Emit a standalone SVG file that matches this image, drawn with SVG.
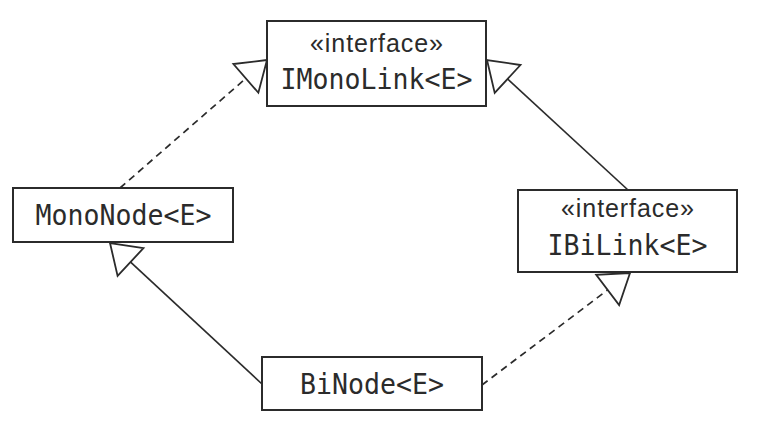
<svg xmlns="http://www.w3.org/2000/svg" width="766" height="435" viewBox="0 0 766 435">
<style>
.box{fill:#fff;stroke:#2b2b2b;stroke-width:2}
.st{font-family:"Liberation Sans",Arial,sans-serif;font-size:25px;fill:#2b2b2b;text-anchor:middle}
.mono{font-family:"DejaVu Sans Mono","Liberation Mono",monospace;font-size:29px;fill:#2b2b2b;text-anchor:middle}
.edge{fill:none;stroke:#2b2b2b;stroke-width:1.7;marker-end:url(#tri)}
.dash{stroke-dasharray:7 5}
</style>
<defs>
<marker id="tri" markerUnits="userSpaceOnUse" viewBox="-30 -21 32 42" markerWidth="32" markerHeight="42" refX="0" refY="0" orient="auto" overflow="visible">
<path d="M0,0 L-28,-19 L-28,19 Z" fill="#fff" stroke="#2b2b2b" stroke-width="1.8" stroke-dasharray="none" stroke-linejoin="miter"/>
</marker>
</defs>
<rect width="766" height="435" fill="#fff"/>
<g id="connectors">
<line class="edge dash" x1="120" y1="188" x2="267" y2="60"/>
<line class="edge" x1="628" y1="190" x2="487" y2="60"/>
<line class="edge" x1="262" y1="384" x2="110" y2="243"/>
<line class="edge dash" x1="482" y1="385" x2="630" y2="273"/>
</g>
<g id="IMonoLink">
<rect class="box" x="267" y="21" width="219" height="85"/>
<text class="st" x="376.5" y="51.5" textLength="133" lengthAdjust="spacing">«interface»</text>
<text class="mono" x="376.5" y="88.5" textLength="192" lengthAdjust="spacingAndGlyphs">IMonoLink&lt;E&gt;</text>
</g>
<g id="MonoNode">
<rect class="box" x="13" y="188" width="220" height="54"/>
<text class="mono" x="123.5" y="225" textLength="176" lengthAdjust="spacingAndGlyphs">MonoNode&lt;E&gt;</text>
</g>
<g id="IBiLink">
<rect class="box" x="518" y="190" width="219" height="82"/>
<text class="st" x="627.5" y="216.5" textLength="133" lengthAdjust="spacing">«interface»</text>
<text class="mono" x="627.5" y="255" textLength="160" lengthAdjust="spacingAndGlyphs">IBiLink&lt;E&gt;</text>
</g>
<g id="BiNode">
<rect class="box" x="262" y="357" width="220" height="53"/>
<text class="mono" x="372" y="393.5" textLength="144" lengthAdjust="spacingAndGlyphs">BiNode&lt;E&gt;</text>
</g>
</svg>
